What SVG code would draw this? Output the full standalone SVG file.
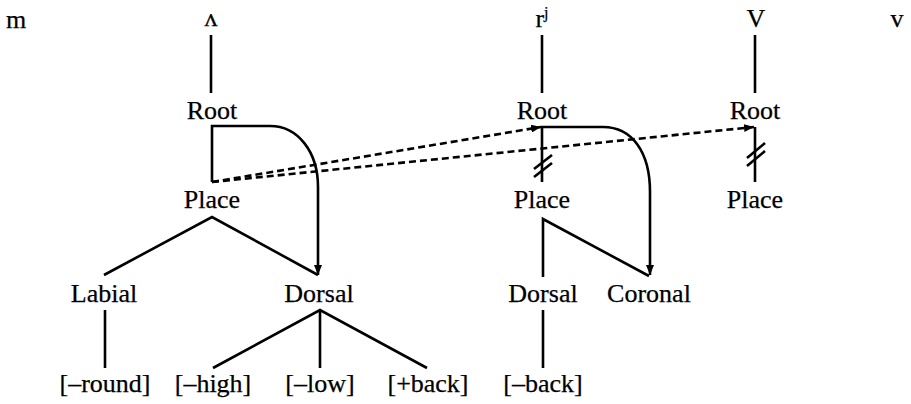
<svg xmlns="http://www.w3.org/2000/svg" width="911" height="404" viewBox="0 0 911 404">
<style>
text{font-family:'Liberation Serif','Times New Roman',serif;font-size:26px;fill:#000;text-anchor:middle;stroke:#000;stroke-width:0.25}
.l{fill:none;stroke:#000;stroke-width:2.6}
.d{fill:none;stroke:#000;stroke-width:2.6;stroke-dasharray:7 4}
</style>
<defs>
<marker id="ah" markerWidth="10" markerHeight="8" refX="10" refY="4" orient="auto" markerUnits="userSpaceOnUse">
<path d="M0,0 L10,4 L0,8 Z" fill="#000"/>
</marker>
</defs>
<g id="seg-m"><text x="16" y="28">m</text></g>
<g id="seg-wedge"><text x="211" y="26">ʌ</text></g>
<g id="seg-rj"><text x="542" y="27">r<tspan font-size="16" dy="-9">j</tspan></text></g>
<g id="seg-V"><text x="756" y="27">V</text></g>
<g id="seg-v"><text x="897" y="27">v</text></g>
<g id="root1"><text x="212" y="119">Root</text></g>
<g id="place1"><text x="212" y="208">Place</text></g>
<g id="labial"><text x="104" y="302">Labial</text></g>
<g id="dorsal1"><text x="319" y="302">Dorsal</text></g>
<g id="round"><text x="105" y="392">[–round]</text></g>
<g id="high"><text x="213" y="392">[–high]</text></g>
<g id="low"><text x="320" y="392">[–low]</text></g>
<g id="plusback"><text x="428" y="392">[+back]</text></g>
<g id="root2"><text x="542" y="119">Root</text></g>
<g id="place2"><text x="542" y="208">Place</text></g>
<g id="dorsal2"><text x="543" y="302">Dorsal</text></g>
<g id="coronal"><text x="649" y="302">Coronal</text></g>
<g id="minusback"><text x="543" y="392">[–back]</text></g>
<g id="root3"><text x="755" y="119">Root</text></g>
<g id="place3"><text x="755" y="208">Place</text></g>
<g id="connectors">
<line class="l" x1="211" y1="35" x2="211" y2="93"/>
<line class="l" x1="542" y1="35" x2="542" y2="93"/>
<line class="l" x1="755" y1="35" x2="755" y2="93"/>
<path class="l" d="M212,182 V126 H270 C298,126 318,152 318,187 V275" marker-end="url(#ah)"/>
<path class="l" d="M104,275 L212,217 L318,275"/>
<line class="l" x1="105" y1="310" x2="105" y2="368"/>
<path class="l" d="M213,368 L320,310 L427,368"/>
<line class="l" x1="320" y1="310" x2="320" y2="368"/>
<line class="d" x1="212" y1="182" x2="541" y2="127" marker-end="url(#ah)"/>
<line class="d" x1="212" y1="182" x2="754" y2="127" marker-end="url(#ah)"/>
<path class="l" d="M542,182 V127 H603 C632,127 650,152 650,192 V275" marker-end="url(#ah)"/>
<line class="l" x1="534" y1="169" x2="552" y2="155"/>
<line class="l" x1="534" y1="177" x2="552" y2="163"/>
<path class="l" d="M543,277 V219 L649,276"/>
<line class="l" x1="543" y1="310" x2="543" y2="368"/>
<line class="l" x1="755" y1="127" x2="755" y2="182"/>
<line class="l" x1="747" y1="158" x2="765" y2="143"/>
<line class="l" x1="747" y1="166" x2="765" y2="151"/>
</g>
</svg>
